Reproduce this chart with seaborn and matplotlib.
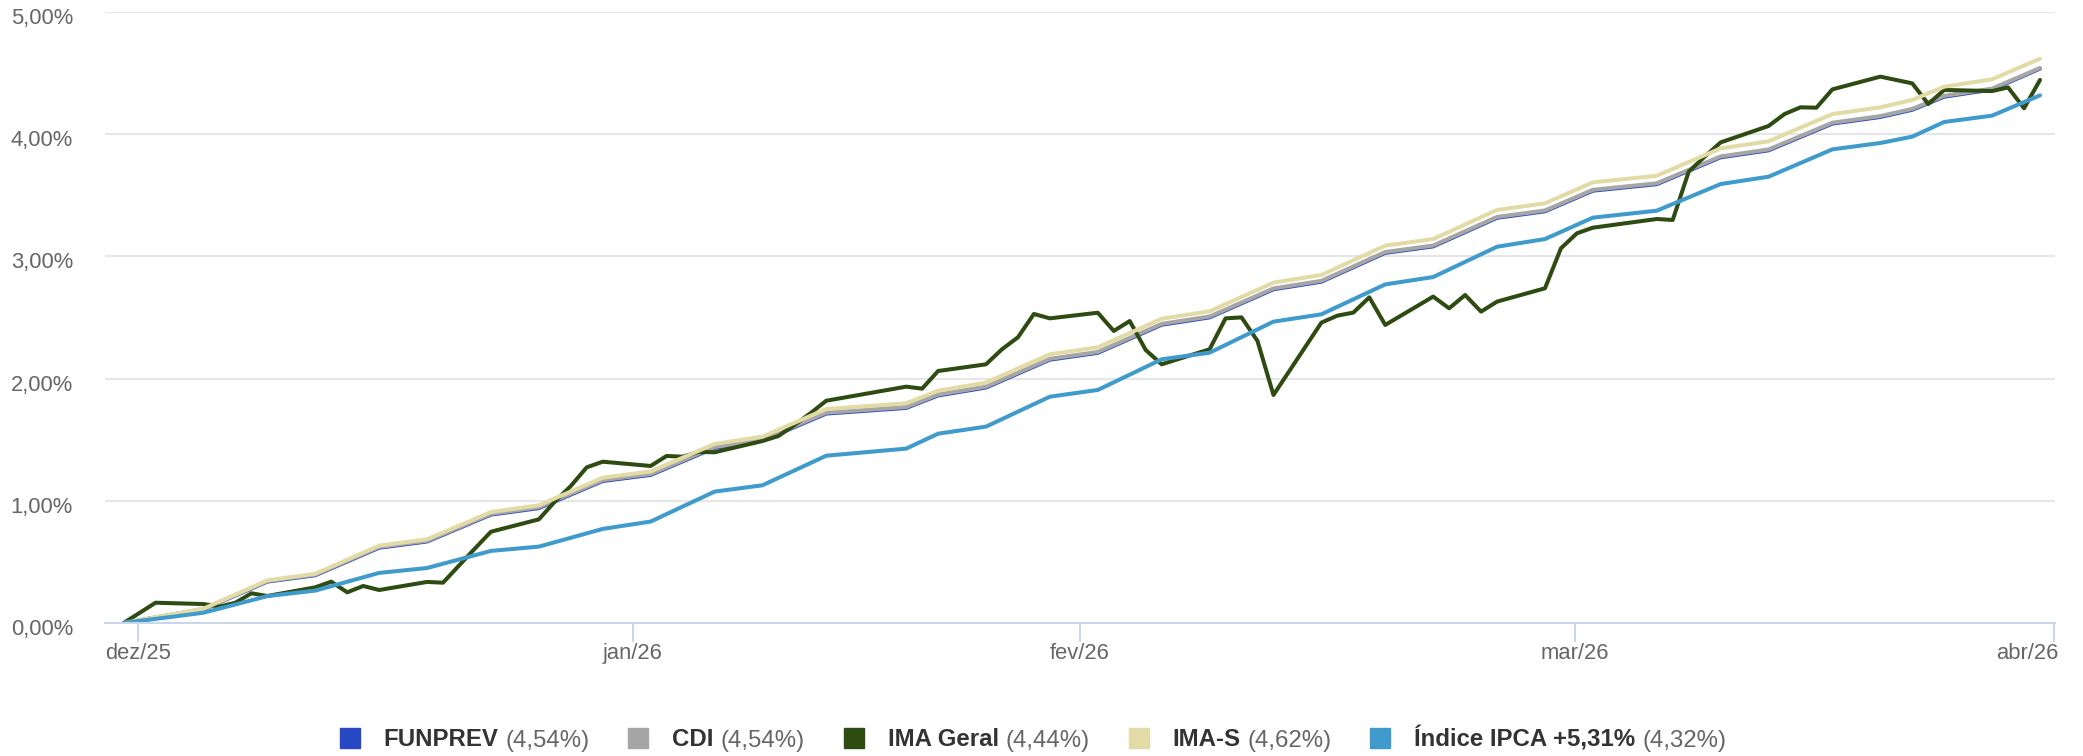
import pandas as pd
import seaborn as sns
import matplotlib
matplotlib.use('Agg')
import matplotlib.pyplot as plt
import matplotlib.dates as mdates
import matplotlib.transforms as mtransforms
from matplotlib.patches import Rectangle

# vertices das series de capitalizacao diaria (segunda/sexta e ajustes de feriado)
datasSemana = pd.to_datetime([
    '2025-12-31', '2026-01-05', '2026-01-09', '2026-01-12', '2026-01-16', '2026-01-19',
    '2026-01-23', '2026-01-26', '2026-01-30', '2026-02-02', '2026-02-06', '2026-02-09',
    '2026-02-13', '2026-02-18', '2026-02-20', '2026-02-23', '2026-02-27', '2026-03-02',
    '2026-03-06', '2026-03-09', '2026-03-13', '2026-03-16', '2026-03-20', '2026-03-23',
    '2026-03-27', '2026-03-30', '2026-04-02', '2026-04-06', '2026-04-10', '2026-04-13',
    '2026-04-17', '2026-04-20', '2026-04-22', '2026-04-24', '2026-04-27', '2026-04-30'])

funprev = [0, 0.112, 0.339, 0.391, 0.616, 0.667, 0.887, 0.940, 1.162, 1.212, 1.433, 1.492,
           1.714, 1.760, 1.862, 1.927, 2.155, 2.211, 2.441, 2.501, 2.731, 2.793, 3.029, 3.082,
           3.316, 3.369, 3.538, 3.591, 3.811, 3.868, 4.087, 4.141, 4.200, 4.307, 4.366, 4.537]
cdi = [0, 0.115, 0.343, 0.396, 0.622, 0.673, 0.893, 0.947, 1.169, 1.219, 1.440, 1.499,
       1.721, 1.767, 1.869, 1.934, 2.162, 2.218, 2.448, 2.508, 2.738, 2.800, 3.036, 3.089,
       3.323, 3.376, 3.545, 3.598, 3.818, 3.875, 4.094, 4.148, 4.207, 4.314, 4.373, 4.542]
imaS = [0, 0.117, 0.349, 0.403, 0.633, 0.685, 0.908, 0.963, 1.189, 1.240, 1.465, 1.525,
        1.751, 1.798, 1.901, 1.967, 2.199, 2.256, 2.490, 2.551, 2.785, 2.848, 3.088, 3.142,
        3.380, 3.434, 3.606, 3.660, 3.884, 3.942, 4.165, 4.220, 4.280, 4.389, 4.449, 4.618]
ipca = [0, 0.084, 0.220, 0.265, 0.410, 0.450, 0.590, 0.625, 0.770, 0.830, 1.075, 1.127,
        1.369, 1.427, 1.549, 1.607, 1.852, 1.907, 2.158, 2.212, 2.466, 2.526, 2.771, 2.831,
        3.079, 3.142, 3.317, 3.374, 3.592, 3.652, 3.876, 3.928, 3.980, 4.100, 4.152, 4.318]

# IMA Geral tem ponto em todo dia util
feriados = ['2026-01-01', '2026-02-16', '2026-02-17', '2026-04-03', '2026-04-21']
datasIma = pd.bdate_range('2025-12-31', '2026-04-30', freq='C', holidays=feriados)
imaGeral = [0,
            0.166, 0.155, 0.134, 0.166, 0.243, 0.221, 0.292, 0.338, 0.251, 0.303, 0.270,
            0.336, 0.330, 0.470, 0.610, 0.747, 0.848, 0.993, 1.121, 1.274, 1.320,
            1.285, 1.367, 1.361, 1.400, 1.397, 1.489, 1.530, 1.620, 1.716, 1.819,
            1.934, 1.918, 2.062, 2.117, 2.240, 2.338, 2.529, 2.493,
            2.539, 2.390, 2.471, 2.234, 2.117, 2.240, 2.493, 2.501, 2.308, 1.866,
            2.458, 2.515, 2.540, 2.665, 2.439, 2.671, 2.575, 2.684, 2.548, 2.630, 2.739, 3.066,
            3.189, 3.235, 3.306, 3.298, 3.693, 3.816, 3.933, 4.067, 4.165, 4.220, 4.217,
            4.367, 4.471, 4.416, 4.247, 4.362, 4.353, 4.383, 4.212, 4.444]

meses = ['jan', 'fev', 'mar', 'abr', 'mai', 'jun', 'jul', 'ago', 'set', 'out', 'nov', 'dez']

series = [
    ('FUNPREV', datasSemana, funprev, '#2747c4'),
    ('CDI', datasSemana, cdi, '#a6a6a6'),
    ('IMA Geral', datasIma, imaGeral, '#2e4b12'),
    ('IMA-S', datasSemana, imaS, '#e3dba6'),
    ('Índice IPCA +5,31%', datasSemana, ipca, '#3f9bcb'),
]

sns.set_style('white')
plt.rcParams['font.family'] = ['Liberation Sans', 'DejaVu Sans']

W, H = 2083, 756
fig = plt.figure(figsize=(W / 100, H / 100), dpi=100)
ax = fig.add_axes([105 / W, 1 - 623 / H, 1950 / W, 611 / H])

for nome, x, y, cor in series:
    sns.lineplot(x=x, y=y, ax=ax, color=cor, linewidth=2.9,
                 solid_joinstyle='round', solid_capstyle='round')

ax.set_xlabel('')
ax.set_ylabel('')
ax.set_ylim(0, 5)
ax.set_xlim(pd.Timestamp('2025-12-29 20:00'), pd.Timestamp('2026-04-30 22:30'))

# ticks no inicio do mes em UTC, mostrados no horario de Brasilia (-3h)
ticks = pd.date_range('2026-01-01', '2026-05-01', freq='MS') - pd.Timedelta(hours=3)
ax.set_xticks(mdates.date2num(ticks))
ax.set_xticklabels(['{}/{}'.format(meses[t.month - 1], t.strftime('%y')) for t in ticks])
ax.set_yticks(range(0, 6))
ax.set_yticklabels(['{},00%'.format(v) for v in range(0, 6)])

ax.yaxis.grid(True, color='#e6e6e6', linewidth=1.5)
ax.xaxis.grid(False)
ax.set_axisbelow(True)
for lado in ['left', 'right', 'top']:
    ax.spines[lado].set_visible(False)
ax.spines['bottom'].set_color('#ccd6eb')
ax.spines['bottom'].set_linewidth(1.5)

ax.tick_params(axis='x', bottom=True, length=13.4, width=1.4, color='#ccd6eb',
               labelsize=15.8, labelcolor='#666666', pad=1)
ax.tick_params(axis='y', left=False, length=0, pad=23, labelsize=15.8, labelcolor='#666666')

desloc = mtransforms.ScaledTranslation(0, -4 / 100, fig.dpi_scale_trans)
for lbl in ax.get_yticklabels():
    lbl.set_transform(lbl.get_transform() + desloc)
ultimo = ax.get_xticklabels()[-1]
ultimo.set_horizontalalignment('right')
ultimo.set_transform(ultimo.get_transform() +
                     mtransforms.ScaledTranslation(4 / 100, 0, fig.dpi_scale_trans))

# legenda feita a mao: nome em negrito + ultimo valor em cinza
fig.canvas.draw()
r = fig.canvas.get_renderer()
itens = []
for nome, x, y, cor in series:
    t1 = fig.text(0, 0, nome, fontsize=17.3, fontweight='bold', color='#333333')
    t2 = fig.text(0, 0, '({:.2f}%)'.format(y[-1]).replace('.', ','), fontsize=17.3, color='#666666')
    itens.append((t1, t2, t1.get_window_extent(r).width, t2.get_window_extent(r).width, cor))

quad, gapQuad, espaco, gapItem = 20, 24, 6.7, 39
total = sum(quad + gapQuad + w1 + espaco + w2 for _, _, w1, w2, _ in itens) + gapItem * (len(itens) - 1)
xPos = 1033 - total / 2
yBase = H - 746.5
for t1, t2, w1, w2, cor in itens:
    fig.patches.append(Rectangle((xPos / W, (H - 748) / H), quad / W, quad / H,
                                 transform=fig.transFigure, color=cor))
    xPos += quad + gapQuad
    t1.set_position((xPos / W, yBase / H))
    xPos += w1 + espaco
    t2.set_position((xPos / W, yBase / H))
    xPos += w2 + gapItem

fig.savefig('out.png', dpi=100)
